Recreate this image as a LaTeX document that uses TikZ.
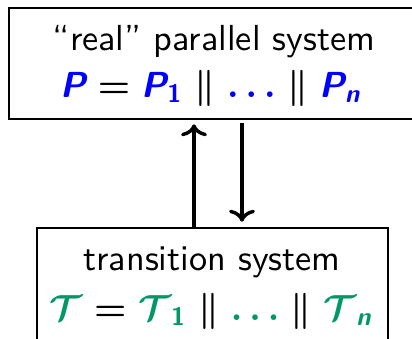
\documentclass[tikz,border=0pt]{standalone}
\usepackage{fontspec}
\usepackage{amsmath}
\usepackage{bm}
\usetikzlibrary{arrows.meta}
\definecolor{tgreen}{RGB}{0,153,102}
\definecolor{pblue}{RGB}{0,0,255}
\newcommand\bsi[1]{\text{\bfseries\itshape #1}}
\newcommand\bup[1]{\text{\bfseries #1}}
\newcommand\magtxt[1]{\scalebox{3.62}{#1}}
\newcommand\pP{\textcolor{pblue}{\bsi{P}}}
\newcommand\tT{\textcolor{tgreen}{\mathcal{T}}}
\tikzset{
  boxframe/.style={draw, line width=2.6pt, inner sep=0pt},
  lbl/.style={anchor=base, inner sep=0pt, font=\fontsize{10}{12}\selectfont\sffamily},
  arr/.style={line width=3.4pt, -{To[length=12pt,width=26pt]}}
}
\begin{document}
\begin{tikzpicture}[x=1pt,y=1pt]
\clip (0,0) rectangle (412,-338);
\useasboundingbox (0,0) rectangle (412,-338);
\node[boxframe, minimum width=406pt, minimum height=111pt] (top) at (212,-63.5) {};
\node[boxframe, minimum width=351pt, minimum height=118pt] (bot) at (212.5,-287) {};
\node[lbl] (t1) at (214,-50) {\magtxt{``real'' parallel system}};
\node[lbl] (t2) at (211,-97) {\magtxt{\boldmath$\pP = \pP_{\textcolor{pblue}{\bup{1}}} \parallel \textcolor{pblue}{\ldots} \parallel \pP_{\textcolor{pblue}{\bsi{n}}}$}};
\node[lbl] (b1) at (212,-270) {\magtxt{transition system}};
\node[lbl] (b2) at (211,-320) {\magtxt{\boldmath$\tT = \tT_{\textcolor{tgreen}{\bup{1}}} \parallel \textcolor{tgreen}{\ldots} \parallel \tT_{\textcolor{tgreen}{\bsi{n}}}$}};
\draw[arr, shorten >=4pt] ([xshift=-18.5pt]bot.north) -- ([xshift=-18pt]top.south);
\draw[arr, shorten <=3pt, shorten >=5pt] ([xshift=30pt]top.south) -- ([xshift=29.5pt]bot.north);
\end{tikzpicture}
\end{document}
